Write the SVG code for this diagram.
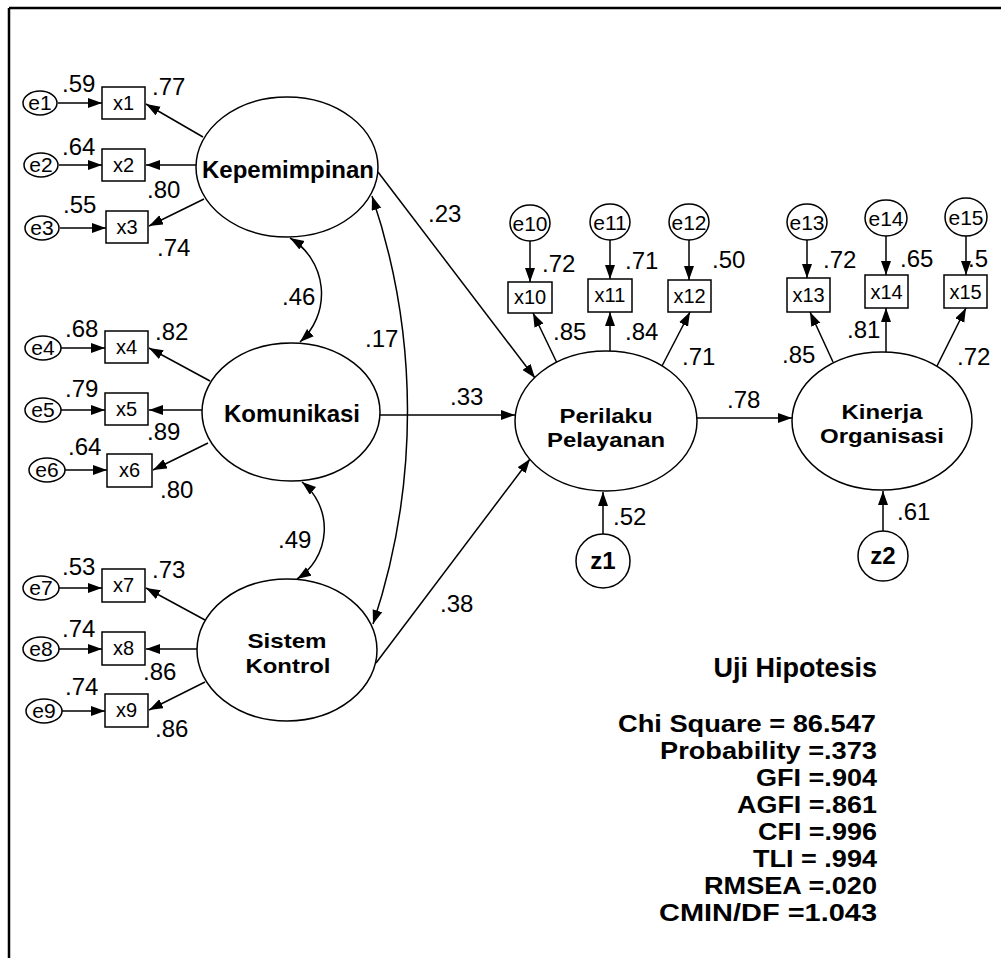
<svg xmlns="http://www.w3.org/2000/svg" width="1001" height="958" viewBox="0 0 1001 958">
<defs>
<marker id="ah" markerUnits="userSpaceOnUse" markerWidth="15" markerHeight="11" refX="14" refY="5" orient="auto-start-reverse">
<path d="M0,0 L14,5 L0,10 z" fill="#000"/>
</marker>
<style>
.n{fill:#fff;stroke:#000;stroke-width:1.5}
.c{fill:none;stroke:#000;stroke-width:1.5;marker-end:url(#ah)}
.cc{fill:none;stroke:#000;stroke-width:1.5;marker-start:url(#ah);marker-end:url(#ah)}
.t{font-family:"Liberation Sans",Arial,sans-serif;fill:#000}
.e{font-size:21px;text-anchor:middle}
.x{font-size:20px;text-anchor:middle}
.v{font-size:24px}
.l{font-size:24px;font-weight:bold;text-anchor:middle}
.l2{font-size:21px;font-weight:bold;text-anchor:middle}
.h{font-size:27px;font-weight:bold;text-anchor:end}
.s{font-size:24px;font-weight:bold;text-anchor:end}
</style>
</defs>
<rect width="1001" height="958" fill="#fff"/>
<g id="frame" stroke="#000" stroke-width="2.5">
<line x1="9" y1="8" x2="1001" y2="8"/>
<line x1="9" y1="8" x2="9" y2="958"/>
</g>
<g id="connectors">
<line class="c" x1="58" y1="103" x2="102" y2="103"/>
<line class="c" x1="59" y1="165" x2="102" y2="165"/>
<line class="c" x1="60" y1="228" x2="106" y2="228"/>
<line class="c" x1="203" y1="137" x2="146" y2="104"/>
<line class="c" x1="196" y1="165" x2="146" y2="165"/>
<line class="c" x1="204" y1="199" x2="149" y2="226"/>
<line class="c" x1="61" y1="348" x2="105" y2="348"/>
<line class="c" x1="61" y1="410" x2="105" y2="410"/>
<line class="c" x1="65" y1="470" x2="107" y2="470"/>
<line class="c" x1="210" y1="381" x2="149" y2="348"/>
<line class="c" x1="202" y1="410" x2="149" y2="410"/>
<line class="c" x1="208" y1="443" x2="153" y2="470"/>
<line class="c" x1="59" y1="588" x2="102" y2="588"/>
<line class="c" x1="59" y1="649" x2="102" y2="649"/>
<line class="c" x1="62" y1="711" x2="105" y2="711"/>
<line class="c" x1="205" y1="620" x2="146" y2="588"/>
<line class="c" x1="197" y1="649" x2="146" y2="649"/>
<line class="c" x1="205" y1="682" x2="149" y2="710"/>
<path class="cc" d="M290,238 A65,65 0 0 1 300,342"/>
<path class="cc" d="M302,482 A60,60 0 0 1 297,579"/>
<path class="cc" d="M372,196 A672,672 0 0 1 373,624"/>
<line class="c" x1="378" y1="172" x2="535" y2="378"/>
<line class="c" x1="380" y1="415" x2="515" y2="415"/>
<line class="c" x1="376" y1="663" x2="530" y2="459"/>
<line class="c" x1="697" y1="418" x2="792" y2="418"/>
<line class="c" x1="530" y1="241" x2="530" y2="282"/>
<line class="c" x1="610" y1="240" x2="610" y2="279"/>
<line class="c" x1="689" y1="240" x2="689" y2="280"/>
<line class="c" x1="557" y1="363" x2="533" y2="313"/>
<line class="c" x1="610" y1="351" x2="610" y2="312"/>
<line class="c" x1="662" y1="366" x2="690" y2="312"/>
<line class="c" x1="807" y1="240" x2="807" y2="278"/>
<line class="c" x1="886" y1="236" x2="886" y2="275"/>
<line class="c" x1="966" y1="235" x2="966" y2="275"/>
<line class="c" x1="833" y1="362" x2="810" y2="312"/>
<line class="c" x1="886" y1="352" x2="886" y2="308"/>
<line class="c" x1="937" y1="366" x2="966" y2="308"/>
<line class="c" x1="603" y1="534" x2="603" y2="492"/>
<line class="c" x1="883" y1="531" x2="883" y2="491"/>
</g>
<g id="coefficients" class="t v">
<text x="62" y="92">.59</text><text x="152" y="95">.77</text>
<text x="62" y="155">.64</text><text x="147" y="198">.80</text>
<text x="63" y="213">.55</text><text x="157" y="256">.74</text>
<text x="65" y="337">.68</text><text x="155" y="340">.82</text>
<text x="65" y="397">.79</text><text x="147" y="440">.89</text>
<text x="68" y="455">.64</text><text x="160" y="498">.80</text>
<text x="62" y="575">.53</text><text x="152" y="578">.73</text>
<text x="62" y="637">.74</text><text x="143" y="680">.86</text>
<text x="65" y="695">.74</text><text x="155" y="737">.86</text>
<text x="282" y="305">.46</text>
<text x="278" y="548">.49</text>
<text x="365" y="347">.17</text>
<text x="428" y="222">.23</text>
<text x="450" y="405">.33</text>
<text x="440" y="612">.38</text>
<text x="727" y="408">.78</text>
<text x="542" y="272">.72</text><text x="625" y="269">.71</text><text x="712" y="268">.50</text>
<text x="553" y="340">.85</text><text x="625" y="340">.84</text><text x="682" y="365">.71</text>
<text x="823" y="268">.72</text><text x="900" y="267">.65</text><text x="968" y="267">.5</text>
<text x="782" y="363">.85</text><text x="847" y="338">.81</text><text x="957" y="365">.72</text>
<text x="613" y="525">.52</text>
<text x="897" y="520">.61</text>
</g>
<g id="Kepemimpinan"><ellipse class="n" cx="287" cy="167" rx="91" ry="70"/><text class="t l" x="288" y="178">Kepemimpinan</text></g>
<g id="Komunikasi"><ellipse class="n" cx="291" cy="412" rx="89" ry="69"/><text class="t l" x="292" y="422">Komunikasi</text></g>
<g id="SistemKontrol"><ellipse class="n" cx="287" cy="650" rx="90" ry="71"/><text class="t l2" x="287" y="648" textLength="79" lengthAdjust="spacingAndGlyphs">Sistem</text><text class="t l2" x="288" y="673" textLength="85" lengthAdjust="spacingAndGlyphs">Kontrol</text></g>
<g id="PerilakuPelayanan"><ellipse class="n" cx="606" cy="421" rx="91" ry="70"/><text class="t l2" x="606" y="423" textLength="93" lengthAdjust="spacingAndGlyphs">Perilaku</text><text class="t l2" x="606" y="447" textLength="118" lengthAdjust="spacingAndGlyphs">Pelayanan</text></g>
<g id="KinerjaOrganisasi"><ellipse class="n" cx="882" cy="421" rx="90" ry="69"/><text class="t l2" x="882" y="419" textLength="81" lengthAdjust="spacingAndGlyphs">Kinerja</text><text class="t l2" x="882" y="443" textLength="124" lengthAdjust="spacingAndGlyphs">Organisasi</text></g>
<g id="e1"><ellipse class="n" cx="40" cy="103" rx="17" ry="12"/><text class="t e" x="40" y="110">e1</text></g>
<g id="e2"><ellipse class="n" cx="41" cy="165" rx="17" ry="12"/><text class="t e" x="41" y="172">e2</text></g>
<g id="e3"><ellipse class="n" cx="42" cy="228" rx="17" ry="12"/><text class="t e" x="42" y="235">e3</text></g>
<g id="e4"><ellipse class="n" cx="43" cy="348" rx="18" ry="12"/><text class="t e" x="43" y="355">e4</text></g>
<g id="e5"><ellipse class="n" cx="43" cy="410" rx="18" ry="12"/><text class="t e" x="43" y="417">e5</text></g>
<g id="e6"><ellipse class="n" cx="47" cy="470" rx="18" ry="12"/><text class="t e" x="47" y="477">e6</text></g>
<g id="e7"><ellipse class="n" cx="41" cy="588" rx="18" ry="12"/><text class="t e" x="41" y="595">e7</text></g>
<g id="e8"><ellipse class="n" cx="41" cy="649" rx="18" ry="12"/><text class="t e" x="41" y="656">e8</text></g>
<g id="e9"><ellipse class="n" cx="44" cy="711" rx="18" ry="12"/><text class="t e" x="44" y="718">e9</text></g>
<g id="x1"><rect class="n" x="102" y="87" width="43" height="32"/><text class="t x" x="123.5" y="110">x1</text></g>
<g id="x2"><rect class="n" x="102" y="149" width="43" height="32"/><text class="t x" x="123.5" y="172">x2</text></g>
<g id="x3"><rect class="n" x="106" y="211" width="42" height="32"/><text class="t x" x="127" y="234">x3</text></g>
<g id="x4"><rect class="n" x="105" y="331" width="43" height="32"/><text class="t x" x="126.5" y="354">x4</text></g>
<g id="x5"><rect class="n" x="105" y="393" width="43" height="32"/><text class="t x" x="126.5" y="416">x5</text></g>
<g id="x6"><rect class="n" x="107" y="454" width="45" height="33"/><text class="t x" x="129.5" y="477">x6</text></g>
<g id="x7"><rect class="n" x="102" y="569" width="43" height="33"/><text class="t x" x="123.5" y="592">x7</text></g>
<g id="x8"><rect class="n" x="102" y="632" width="43" height="33"/><text class="t x" x="123.5" y="655">x8</text></g>
<g id="x9"><rect class="n" x="105" y="694" width="43" height="33"/><text class="t x" x="126.5" y="717">x9</text></g>
<g id="e10"><ellipse class="n" cx="530" cy="223" rx="20" ry="18"/><text class="t e" x="530" y="231">e10</text></g>
<g id="e11"><ellipse class="n" cx="610" cy="222" rx="20" ry="18"/><text class="t e" x="610" y="230">e11</text></g>
<g id="e12"><ellipse class="n" cx="689" cy="222" rx="20" ry="18"/><text class="t e" x="689" y="230">e12</text></g>
<g id="e13"><ellipse class="n" cx="807" cy="222" rx="20" ry="18"/><text class="t e" x="807" y="230">e13</text></g>
<g id="e14"><ellipse class="n" cx="886" cy="218" rx="21" ry="18"/><text class="t e" x="886" y="226">e14</text></g>
<g id="e15"><ellipse class="n" cx="966" cy="217" rx="21" ry="19"/><text class="t e" x="966" y="225">e15</text></g>
<g id="x10"><rect class="n" x="508" y="282" width="44" height="31"/><text class="t x" x="530" y="304">x10</text></g>
<g id="x11"><rect class="n" x="588" y="279" width="44" height="33"/><text class="t x" x="610" y="302">x11</text></g>
<g id="x12"><rect class="n" x="668" y="280" width="43" height="32"/><text class="t x" x="689.5" y="303">x12</text></g>
<g id="x13"><rect class="n" x="787" y="278" width="43" height="34"/><text class="t x" x="808.5" y="302">x13</text></g>
<g id="x14"><rect class="n" x="865" y="275" width="43" height="33"/><text class="t x" x="886.5" y="299">x14</text></g>
<g id="x15"><rect class="n" x="944" y="275" width="43" height="33"/><text class="t x" x="965.5" y="299">x15</text></g>
<g id="z1"><circle class="n" cx="603" cy="561" r="27"/><text class="t l" x="603" y="569">z1</text></g>
<g id="z2"><circle class="n" cx="883" cy="556" r="25"/><text class="t l" x="883" y="564">z2</text></g>
<g id="stats" class="t">
<text class="h" x="877" y="677">Uji Hipotesis</text>
<text class="s" x="876" y="732" textLength="258" lengthAdjust="spacingAndGlyphs">Chi Square = 86.547</text>
<text class="s" x="877" y="759" textLength="217" lengthAdjust="spacingAndGlyphs">Probability =.373</text>
<text class="s" x="877" y="786" textLength="121" lengthAdjust="spacingAndGlyphs">GFI =.904</text>
<text class="s" x="877" y="813" textLength="140" lengthAdjust="spacingAndGlyphs">AGFI =.861</text>
<text class="s" x="877" y="840" textLength="119" lengthAdjust="spacingAndGlyphs">CFI =.996</text>
<text class="s" x="877" y="867" textLength="124" lengthAdjust="spacingAndGlyphs">TLI = .994</text>
<text class="s" x="877" y="894" textLength="173" lengthAdjust="spacingAndGlyphs">RMSEA =.020</text>
<text class="s" x="877" y="921" textLength="218" lengthAdjust="spacingAndGlyphs">CMIN/DF =1.043</text>
</g>
</svg>
